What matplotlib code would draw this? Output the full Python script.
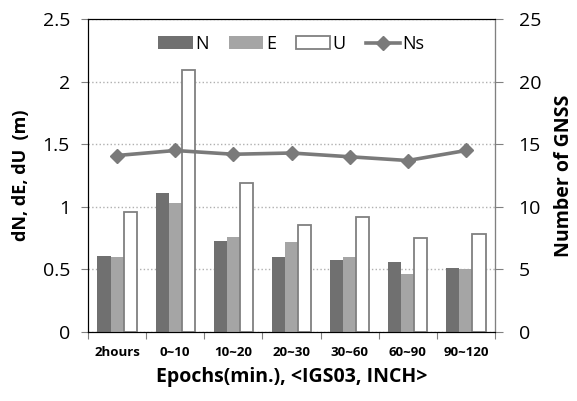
import numpy as np
import matplotlib
matplotlib.use('Agg')
from matplotlib import pyplot as plt

plt.rcParams['font.family'] = ['Open Sans', 'DejaVu Sans']

categories = ['2hours', '0~10', '10~20', '20~30', '30~60', '60~90', '90~120']
dN = [0.61, 1.11, 0.73, 0.60, 0.575, 0.56, 0.515]
dE = [0.60, 1.03, 0.76, 0.72, 0.60, 0.46, 0.50]
dU = [0.96, 2.09, 1.19, 0.855, 0.915, 0.75, 0.78]
Ns = [14.1, 14.5, 14.2, 14.3, 14.0, 13.7, 14.5]

x = np.arange(len(categories))
w = 0.225

fig = plt.figure(figsize=(5.77, 4.01), dpi=100)
ax = fig.add_axes([0.1525, 0.172, 0.7054, 0.7805])
ax2 = ax.twinx()

ax.bar(x - w, dN, w, color='#707070', label='N', zorder=3)
ax.bar(x, dE, w, color='#a5a5a5', label='E', zorder=3)
ax.bar(x + w, dU, w, color='white', edgecolor='#808080', linewidth=1.3, label='U', zorder=3)
ax2.plot(x, Ns, color='#7a7a7a', lw=2.6, marker='D', markersize=7, label='Ns')

ax.set_ylim(0, 2.5)
ax.set_yticks([0, 0.5, 1, 1.5, 2, 2.5])
ax.set_yticklabels(['0', '0.5', '1', '1.5', '2', '2.5'])
ax2.set_ylim(0, 25)
ax2.set_yticks([0, 5, 10, 15, 20, 25])
ax.set_xlim(-0.5, len(categories) - 0.5)
ax.set_xticks(np.arange(len(categories) + 1) - 0.5)
ax.set_xticklabels([])
ax.set_xticks(x, minor=True)
ax.set_xticklabels(categories, minor=True, fontsize=9.5, fontweight='bold')
ax.tick_params(axis='x', which='major', length=5, color='#808080')
ax.tick_params(axis='x', which='minor', length=0, pad=10)
ax.tick_params(axis='y', labelsize=14, length=5, color='#808080', pad=8)
ax2.tick_params(axis='y', labelsize=14, length=6, color='#808080', pad=11)

ax.grid(axis='y', color='#b0b0b0', linestyle=':', linewidth=1, zorder=0)
ax.set_axisbelow(True)
for s in ['left', 'top', 'bottom']:
    ax.spines[s].set_color('black')
ax2.spines['top'].set_color('black')
ax2.spines['right'].set_color('#808080')
ax2.spines['left'].set_color('black')

ax.set_ylabel('dN, dE, dU  (m)', fontsize=13, fontweight='bold', labelpad=9)
ax2.set_ylabel('Number of GNSS', fontsize=14, fontweight='bold', labelpad=9)
ax.set_xlabel('Epochs(min.), <IGS03, INCH>', fontsize=14, fontweight='bold', labelpad=6)

h1, l1 = ax.get_legend_handles_labels()
h2, l2 = ax2.get_legend_handles_labels()
ax.legend(h1 + h2, l1 + l2, loc='center', ncol=4, frameon=False, fontsize=13,
          bbox_to_anchor=(0.5, 0.92), handlelength=1.9, columnspacing=1.1, handletextpad=0.15)

fig.savefig('out.png', dpi=100)
